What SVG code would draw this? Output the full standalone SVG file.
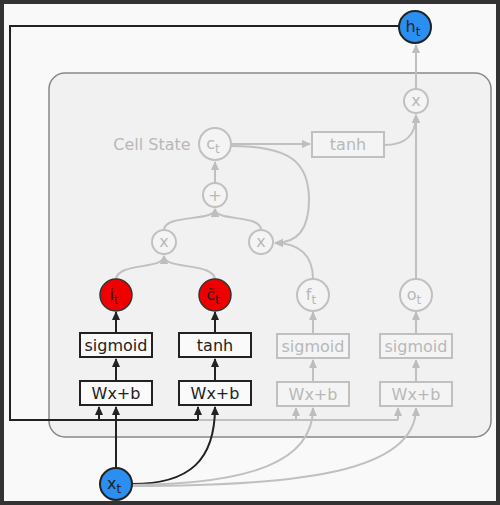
<svg xmlns="http://www.w3.org/2000/svg" width="500" height="505" viewBox="0 0 500 505">
<defs>
<marker id="ag" markerWidth="9" markerHeight="9" refX="8" refY="4.5" orient="auto" markerUnits="userSpaceOnUse"><path d="M0,0.5 L9,4.5 L0,8.5 z" fill="#bdbdbd"/></marker>
<marker id="ad" markerWidth="9" markerHeight="9" refX="8" refY="4.5" orient="auto" markerUnits="userSpaceOnUse"><path d="M0,0.5 L9,4.5 L0,8.5 z" fill="#222"/></marker>
</defs>
<style>
text{font-family:"DejaVu Sans",Verdana,sans-serif;text-anchor:middle}
.g{fill:none;stroke:#c0c0c0;stroke-width:2}
.d{fill:none;stroke:#222;stroke-width:2}
.gbox{fill:#f4f4f4;stroke:#c0c0c0;stroke-width:2}
.dbox{fill:#fafafa;stroke:#222;stroke-width:2}
.gc{fill:#f4f4f4;stroke:#c0c0c0;stroke-width:2}
.rc{fill:#ee0000;stroke:#333;stroke-width:1.5}
.bc{fill:#2a8ff0;stroke:#222;stroke-width:2}
.gt{fill:#b8b8b8;font-size:16px}
.dt{fill:#222;font-size:16px}
.sub{font-size:12px}
</style>
<rect x="2" y="2" width="496" height="501" fill="#f9f9f9" stroke="#333" stroke-width="4"/>
<rect x="49" y="73" width="442" height="364" rx="16" fill="#f1f1f1" stroke="#888" stroke-width="1.5"/>

<g id="connectors">
<path class="d" d="M399,26 H10 V420 H198"/>
<path class="g" d="M198,420 H398"/>
<path class="d" d="M99,420 V407" marker-end="url(#ad)"/>
<path class="d" d="M198,420 V407" marker-end="url(#ad)"/>
<path class="g" d="M296,420 V408" marker-end="url(#ag)"/>
<path class="g" d="M398,420 V408" marker-end="url(#ag)"/>
<path class="d" d="M116,468 V407" marker-end="url(#ad)"/>
<path class="d" d="M132,484 C190,484 215,460 215,407" marker-end="url(#ad)"/>
<path class="g" d="M132,485 C250,484 313,462 313,408" marker-end="url(#ag)"/>
<path class="g" d="M132,486 C300,486 416,472 416,408" marker-end="url(#ag)"/>
<path class="d" d="M116,381 V359" marker-end="url(#ad)"/>
<path class="d" d="M215,381 V359" marker-end="url(#ad)"/>
<path class="g" d="M313,382 V360" marker-end="url(#ag)"/>
<path class="g" d="M416,382 V360" marker-end="url(#ag)"/>
<path class="d" d="M116,333 V312" marker-end="url(#ad)"/>
<path class="d" d="M215,333 V312" marker-end="url(#ad)"/>
<path class="g" d="M313,334 V312" marker-end="url(#ag)"/>
<path class="g" d="M416,334 V312" marker-end="url(#ag)"/>
<path class="g" d="M116,280 C116,262 164,270 164,256" marker-end="url(#ag)"/>
<path class="g" d="M215,280 C215,262 164,270 164,256" marker-end="url(#ag)"/>
<path class="g" d="M164,230 C164,214 215,222 215,209" marker-end="url(#ag)"/>
<path class="g" d="M261,230 C261,214 215,222 215,209" marker-end="url(#ag)"/>
<path class="g" d="M215,183 V162" marker-end="url(#ag)"/>
<path class="g" d="M231,144 H310" marker-end="url(#ag)"/>
<path class="g" d="M231,146 C290,146 309,162 309,200 C309,230 296,243 275,243" marker-end="url(#ag)"/>
<path class="g" d="M313,279 C313,256 300,243 275,243" marker-end="url(#ag)"/>
<path class="g" d="M384,145 C405,145 416,136 416,115" marker-end="url(#ag)"/>
<path class="g" d="M416,279 V115" marker-end="url(#ag)"/>
<path class="g" d="M416,89 V45" marker-end="url(#ag)"/>
</g>

<g id="ht"><circle class="bc" cx="415" cy="27" r="16"/><text class="dt" x="413" y="32" font-size="17">h<tspan class="sub" dy="4">t</tspan></text></g>
<g id="xt"><circle class="bc" cx="116" cy="484" r="16"/><text class="dt" x="114" y="489" font-size="17">x<tspan class="sub" dy="4">t</tspan></text></g>

<g id="cellstate"><text class="gt" x="152" y="150">Cell State</text></g>
<g id="ct"><circle class="gc" cx="215" cy="144" r="16"/><text class="gt" x="213" y="149" font-size="17">c<tspan class="sub" dy="4">t</tspan></text></g>
<g id="tanh_out"><rect class="gbox" x="312" y="132" width="72" height="25"/><text class="gt" x="348" y="150">tanh</text></g>
<g id="mul_out"><circle class="gc" cx="416" cy="101" r="12"/><text class="gt" x="416" y="106">x</text></g>
<g id="plus"><circle class="gc" cx="215" cy="195" r="12"/><text class="gt" x="215" y="201">+</text></g>
<g id="mul_i"><circle class="gc" cx="164" cy="242" r="12"/><text class="gt" x="164" y="247">x</text></g>
<g id="mul_f"><circle class="gc" cx="261" cy="242" r="12"/><text class="gt" x="261" y="247">x</text></g>

<g id="it"><circle class="rc" cx="116" cy="295" r="16"/><text class="dt" x="114" y="300" font-size="17">i<tspan class="sub" dy="4">t</tspan></text></g>
<g id="ctilde"><circle class="rc" cx="215" cy="295" r="16"/><text class="dt" x="213" y="300" font-size="17">c̃<tspan class="sub" dy="4">t</tspan></text></g>
<g id="ft"><circle class="gc" cx="313" cy="295" r="16"/><text class="gt" x="311" y="300" font-size="17">f<tspan class="sub" dy="4">t</tspan></text></g>
<g id="ot"><circle class="gc" cx="416" cy="295" r="16"/><text class="gt" x="414" y="300" font-size="17">o<tspan class="sub" dy="4">t</tspan></text></g>

<g id="sig_i"><rect class="dbox" x="80" y="333" width="72" height="24"/><text class="dt" x="116" y="351">sigmoid</text></g>
<g id="tanh_c"><rect class="dbox" x="179" y="333" width="72" height="24"/><text class="dt" x="215" y="351">tanh</text></g>
<g id="sig_f"><rect class="gbox" x="277" y="334" width="72" height="24"/><text class="gt" x="313" y="352">sigmoid</text></g>
<g id="sig_o"><rect class="gbox" x="380" y="334" width="72" height="24"/><text class="gt" x="416" y="352">sigmoid</text></g>

<g id="wx_i"><rect class="dbox" x="80" y="381" width="72" height="24"/><text class="dt" x="116" y="399">Wx+b</text></g>
<g id="wx_c"><rect class="dbox" x="179" y="381" width="72" height="24"/><text class="dt" x="215" y="399">Wx+b</text></g>
<g id="wx_f"><rect class="gbox" x="277" y="382" width="72" height="24"/><text class="gt" x="313" y="400">Wx+b</text></g>
<g id="wx_o"><rect class="gbox" x="380" y="382" width="72" height="24"/><text class="gt" x="416" y="400">Wx+b</text></g>
</svg>
